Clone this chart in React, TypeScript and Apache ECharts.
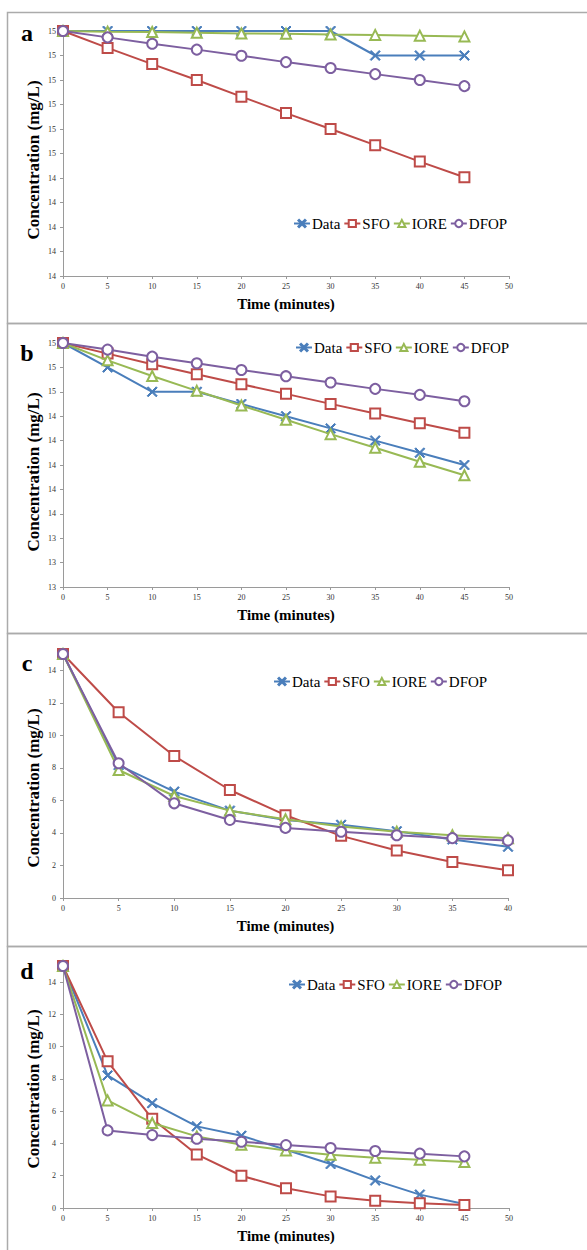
import React, { useEffect, useRef } from "react";
import * as echarts from "echarts";

const seriesNames = ["Data", "SFO", "IORE", "DFOP"];
const timesA = [0, 5, 10, 15, 20, 25, 30, 35, 40, 45];
const timesC = [0, 5, 10, 15, 20, 25, 30, 35, 40];

const aData = [15, 15, 15, 15, 15, 15, 15, 14.9, 14.9, 14.9];
const aSFO = [15, 14.931, 14.865, 14.8, 14.732, 14.665, 14.6, 14.534, 14.467, 14.403];
const aIORE = [15, 14.997, 14.996, 14.993, 14.99, 14.989, 14.986, 14.984, 14.981, 14.978];
const aDFOP = [15, 14.974, 14.948, 14.924, 14.899, 14.873, 14.849, 14.824, 14.8, 14.775];

const bData = [15, 14.8, 14.6, 14.6, 14.5, 14.4, 14.3, 14.2, 14.1, 14.0];
const bSFO = [15, 14.913, 14.826, 14.744, 14.662, 14.583, 14.501, 14.422, 14.343, 14.264];
const bIORE = [15, 14.858, 14.73, 14.608, 14.488, 14.371, 14.253, 14.142, 14.027, 13.916];
const bDFOP = [15, 14.946, 14.888, 14.834, 14.779, 14.728, 14.676, 14.624, 14.575, 14.523];

const cData = [15, 8.17, 6.54, 5.37, 4.8, 4.5, 4.11, 3.6, 3.15];
const cSFO = [15, 11.42, 8.73, 6.64, 5.09, 3.82, 2.92, 2.21, 1.7];
const cIORE = [15, 7.87, 6.27, 5.37, 4.84, 4.39, 4.07, 3.86, 3.68];
const cDFOP = [15, 8.28, 5.82, 4.8, 4.31, 4.07, 3.86, 3.68, 3.54];

const dData = [15, 8.22, 6.5, 5.06, 4.48, 3.61, 2.73, 1.71, 0.83, 0.25];
const dSFO = [15, 9.09, 5.53, 3.32, 2.0, 1.22, 0.72, 0.45, 0.29, 0.19];
const dIORE = [15, 6.67, 5.27, 4.44, 3.92, 3.57, 3.3, 3.12, 2.99, 2.85];
const dDFOP = [15, 4.81, 4.52, 4.29, 4.11, 3.9, 3.72, 3.53, 3.37, 3.2];

const panelLetters = ["a", "b", "c", "d"];
const xTitle = "Time (minutes)";
const yTitle = "Concentration (mg/L)";

const COLORS = ["#4A7EBB", "#BE4B48", "#98B954", "#7D5FA0"];
const SYMBOLS = [
  "path://M1,0L5,4L9,0L10,1L6,5L10,9L9,10L5,6L1,10L0,9L4,5L0,1Z",
  "emptyRect",
  "emptyTriangle",
  "emptyCircle",
];
const SERIF = "'Liberation Serif', 'Times New Roman', serif";

export default function App() {
  const ref = useRef<HTMLDivElement>(null);
  useEffect(() => {
    document.body.style.margin = "0";
    if (!ref.current) return;
    const chart = echarts.init(ref.current, undefined, { renderer: "svg" });

    const panels = [
      { times: timesA, vals: [aData, aSFO, aIORE, aDFOP], ymin: 14, ymax: 15, yint: 0.1, xmax: 50, round: true,
        grid: { left: 63, top: 31, width: 446, height: 245 }, legend: { left: 293, top: 216 },
        letterY: 33, yTitleY: 160, frameTop: 12, frameH: 311 },
      { times: timesA, vals: [bData, bSFO, bIORE, bDFOP], ymin: 13, ymax: 15, yint: 0.2, xmax: 50, round: true,
        grid: { left: 63, top: 343, width: 446, height: 244 }, legend: { left: 295, top: 340 },
        letterY: 353, yTitleY: 472, frameTop: 323, frameH: 310 },
      { times: timesC, vals: [cData, cSFO, cIORE, cDFOP], ymin: 0, ymax: 15, yint: 2, xmax: 40, round: false,
        grid: { left: 63, top: 654, width: 445, height: 244 }, legend: { left: 273, top: 674 },
        letterY: 663, yTitleY: 788, frameTop: 633, frameH: 313 },
      { times: timesA, vals: [dData, dSFO, dIORE, dDFOP], ymin: 0, ymax: 15, yint: 2, xmax: 50, round: false,
        grid: { left: 63, top: 966, width: 446, height: 242 }, legend: { left: 288, top: 977 },
        letterY: 971, yTitleY: 1089, frameTop: 946, frameH: 320 },
    ];

    const axisLine = { lineStyle: { color: "#9a9a9a", width: 1 } };
    const axisTick = { length: 3, lineStyle: { color: "#9a9a9a" } };
    const axisLabelBase = { fontFamily: SERIF, fontSize: 8, color: "#333" };

    const grids: any[] = [];
    const xAxes: any[] = [];
    const yAxes: any[] = [];
    const series: any[] = [];
    const legends: any[] = [];
    const graphics: any[] = [];

    panels.forEach((p, i) => {
      grids.push({ ...p.grid, containLabel: false });
      xAxes.push({
        type: "value", gridIndex: i, min: 0, max: p.xmax, interval: 5,
        splitLine: { show: false }, axisLine, axisTick,
        axisLabel: { ...axisLabelBase, margin: 6 },
        name: xTitle, nameLocation: "middle", nameGap: 20,
        nameTextStyle: { fontFamily: SERIF, fontSize: 15, fontWeight: "bold", color: "#000" },
      });
      yAxes.push({
        type: "value", gridIndex: i, min: p.ymin, max: p.ymax, interval: p.yint,
        splitLine: { show: false }, axisLine: { show: true, ...axisLine }, axisTick: { show: true, ...axisTick },
        axisLabel: {
          ...axisLabelBase, margin: 7, showMaxLabel: p.round,
          formatter: (v: number) => (p.round ? String(Math.round(v + 1e-9)) : String(Math.round(v))),
        },
      });
      seriesNames.forEach((name, k) => {
        series.push({
          type: "line", name, xAxisIndex: i, yAxisIndex: i,
          data: p.times.map((t, j) => [t, p.vals[k][j]]),
          symbol: SYMBOLS[k], symbolSize: 10,
          showAllSymbol: true,
          color: COLORS[k],
          lineStyle: { color: COLORS[k], width: 2 },
          itemStyle: { color: COLORS[k], borderColor: COLORS[k], borderWidth: 1 },
          z: 2 + k,
        });
      });
      legends.push({
        data: seriesNames, left: p.legend.left, top: p.legend.top,
        itemWidth: 16, itemHeight: 9, itemGap: 3, padding: 0,
        textStyle: { fontFamily: SERIF, fontSize: 15, color: "#000", padding: [0, 0, 0, -3] },
        selectedMode: false,
      });
      graphics.push({
        type: "rect", shape: { x: 7.5, y: p.frameTop + 0.5, width: 620, height: p.frameH },
        style: { fill: "none", stroke: "#ababab", lineWidth: 1.5 }, silent: true, z: 0,
      });
      graphics.push({
        type: "text", x: 27, y: p.letterY,
        style: { text: panelLetters[i], fontFamily: SERIF, fontSize: 24, fontWeight: "bold", fill: "#000", align: "center", verticalAlign: "middle" },
      });
      graphics.push({
        type: "text", x: 33, y: p.yTitleY, rotation: Math.PI / 2,
        style: { text: yTitle, fontFamily: SERIF, fontSize: 17, fontWeight: "bold", fill: "#000", align: "center", verticalAlign: "middle" },
      });
    });

    chart.setOption({
      animation: false,
      backgroundColor: "#fff",
      grid: grids,
      xAxis: xAxes,
      yAxis: yAxes,
      legend: legends,
      series,
      graphic: graphics,
    });
    return () => chart.dispose();
  }, []);
  return <div ref={ref} style={{ width: 587, height: 1250 }} />;
}
